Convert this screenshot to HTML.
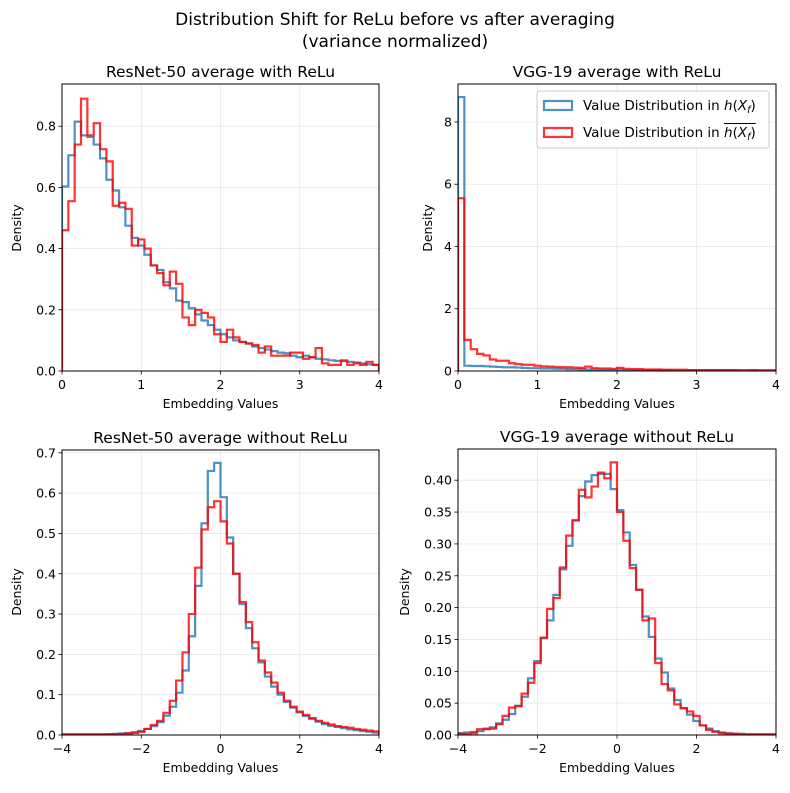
<!DOCTYPE html>
<html><head><meta charset="utf-8"><style>
body{margin:0;background:#fff;font-family:"Liberation Sans","DejaVu Sans",sans-serif}
svg text{font-family:"DejaVu Sans","Liberation Sans",sans-serif;fill:#000}
</style></head><body>
<svg id="fig" width="790" height="788" xmlns="http://www.w3.org/2000/svg">
<text x="395" y="25" text-anchor="middle" font-size="17">Distribution Shift for ReLu before vs after averaging</text>
<text x="395" y="47" text-anchor="middle" font-size="17">(variance normalized)</text>
</svg>
<script>
const binsA = 50;
// Top-left: ResNet-50 with ReLu, bins 0..4
const tlBlue=[0.603,0.705,0.815,0.77,0.765,0.74,0.695,0.625,0.59,0.535,0.475,0.435,0.41,0.38,0.345,0.33,0.29,0.27,0.23,0.225,0.205,0.185,0.165,0.15,0.135,0.12,0.11,0.1,0.095,0.09,0.08,0.075,0.07,0.065,0.06,0.058,0.05,0.045,0.05,0.045,0.04,0.038,0.035,0.033,0.032,0.03,0.028,0.025,0.022,0.02];
const tlRed=[0.46,0.555,0.74,0.89,0.77,0.81,0.725,0.685,0.54,0.55,0.53,0.41,0.43,0.4,0.345,0.32,0.28,0.325,0.285,0.175,0.15,0.2,0.19,0.175,0.12,0.095,0.135,0.11,0.095,0.09,0.085,0.06,0.08,0.05,0.05,0.05,0.06,0.06,0.04,0.045,0.075,0.025,0.02,0.02,0.035,0.02,0.025,0.02,0.03,0.02];
// Top-right: VGG-19 with ReLu
const trBlue=[8.8,0.17,0.16,0.16,0.15,0.14,0.13,0.12,0.12,0.11,0.1,0.09,0.09,0.08,0.08,0.07,0.07,0.06,0.06,0.05,0.05,0.05,0.04,0.04,0.04,0.04,0.03,0.03,0.03,0.03,0.03,0.03,0.03,0.02,0.02,0.02,0.02,0.02,0.02,0.02,0.02,0.02,0.02,0.02,0.02,0.02,0.02,0.02,0.02,0.02];
const trRed=[5.55,1.0,0.7,0.55,0.5,0.37,0.33,0.33,0.25,0.22,0.2,0.2,0.17,0.15,0.14,0.13,0.12,0.12,0.11,0.1,0.14,0.09,0.08,0.08,0.07,0.1,0.07,0.06,0.06,0.05,0.05,0.05,0.04,0.04,0.04,0.04,0.03,0.03,0.03,0.03,0.03,0.03,0.03,0.03,0.02,0.02,0.03,0.02,0.02,0.02];
// Bottom-left: ResNet-50 without ReLu, bins -4..4
const blBlue=[0.001,0.001,0.001,0.001,0.001,0.001,0.001,0.002,0.003,0.004,0.005,0.007,0.01,0.015,0.022,0.032,0.048,0.07,0.105,0.16,0.245,0.37,0.525,0.655,0.675,0.59,0.49,0.40,0.325,0.265,0.215,0.18,0.145,0.12,0.1,0.082,0.068,0.056,0.047,0.04,0.033,0.027,0.023,0.02,0.017,0.014,0.012,0.01,0.008,0.006];
const blRed=[0.002,0.002,0.002,0.002,0.002,0.002,0.002,0.002,0.002,0.002,0.004,0.005,0.008,0.015,0.025,0.035,0.055,0.085,0.135,0.205,0.30,0.415,0.51,0.565,0.58,0.53,0.475,0.40,0.33,0.28,0.23,0.185,0.155,0.13,0.105,0.085,0.07,0.058,0.05,0.042,0.035,0.03,0.026,0.022,0.02,0.018,0.015,0.013,0.011,0.009];
// Bottom-right: VGG-19 without ReLu
const brBlue=[0.003,0.004,0.005,0.006,0.01,0.012,0.018,0.024,0.033,0.046,0.06,0.089,0.116,0.152,0.18,0.22,0.26,0.297,0.337,0.375,0.398,0.408,0.41,0.41,0.386,0.353,0.318,0.267,0.228,0.186,0.154,0.12,0.098,0.073,0.055,0.042,0.032,0.022,0.015,0.01,0.006,0.004,0.003,0.002,0.002,0.001,0.001,0.001,0.001,0.001];
const brRed=[0.002,0.002,0.003,0.009,0.009,0.01,0.017,0.03,0.043,0.045,0.065,0.082,0.113,0.153,0.198,0.215,0.263,0.313,0.337,0.385,0.373,0.39,0.412,0.403,0.428,0.35,0.305,0.262,0.228,0.18,0.183,0.113,0.08,0.07,0.048,0.042,0.037,0.03,0.015,0.008,0.005,0.003,0.002,0.002,0.001,0.001,0.001,0.001,0.001,0.001];

const tlY=['0.0','0.2','0.4','0.6','0.8'], trY=['0','2','4','6','8'];
const blY=['0.0','0.1','0.2','0.3','0.4','0.5','0.6','0.7'];
const brY=['0.00','0.05','0.10','0.15','0.20','0.25','0.30','0.35','0.40'];
const xPos=['0','1','2','3','4'], xSym=['−4','−2','0','2','4'];

const NS='http://www.w3.org/2000/svg', fig=document.getElementById('fig');
function mk(tag,attrs,parent){const e=document.createElementNS(NS,tag);for(const k in attrs)e.setAttribute(k,attrs[k]);(parent||fig).appendChild(e);return e;}

function panel(id,box,title,xmin,xmax,ymax,yTicks,xTicks,blue,red){
  const g=mk('g',{});
  
  
  const [L,T,R,B]=box;
  const sx=v=>L+(v-xmin)/(xmax-xmin)*(R-L);
  const sy=v=>B-v/ymax*(B-T);
  const grid=mk('g',{},g);
  
  
  yTicks.forEach(t=>{const v=parseFloat(t),y=sy(v);
    mk('line',{x1:L,x2:R,y1:y,y2:y,stroke:'#b0b0b0','stroke-opacity':0.3,'stroke-width':0.8},grid);
    mk('line',{x1:L-3.5,x2:L,y1:y,y2:y,stroke:'#000','stroke-width':0.8},g);
    const tx=mk('text',{x:L-6,y:y+4.5,'text-anchor':'end','font-size':12.5},g);tx.textContent=t;
    
    
  });
  xTicks.forEach(t=>{const v=parseFloat(t.replace('−','-')),x=sx(v);
    mk('line',{x1:x,x2:x,y1:T,y2:B,stroke:'#b0b0b0','stroke-opacity':0.3,'stroke-width':0.8},grid);
    mk('line',{x1:x,x2:x,y1:B,y2:B+3.5,stroke:'#000','stroke-width':0.8},g);
    const tx=mk('text',{x:x,y:B+18,'text-anchor':'middle','font-size':12.5},g);tx.textContent=t;
    
    
  });
  const cid='clip-'+id;
  const cp=mk('clipPath',{id:cid},g);mk('rect',{x:L,y:T,width:R-L,height:B-T},cp);
  const w=(xmax-xmin)/binsA;
  [[blue,'#1f77b4','series-h'],[red,'#ff0000','series-h-bar']].forEach(([arr,col,nm])=>{
    let d='M'+sx(xmin)+','+sy(0);
    arr.forEach((v,i)=>{d+=' V'+sy(v)+' H'+sx(xmin+(i+1)*w);});
    d+=' V'+sy(0);
    const p=mk('path',{d:d,fill:'none',stroke:col,'stroke-opacity':0.8,'stroke-width':2.2,'clip-path':'url(#'+cid+')'},g);
    
    
  });
  mk('rect',{x:L,y:T,width:R-L,height:B-T,fill:'none',stroke:'#000','stroke-width':1},g);
  const tt=mk('text',{x:(L+R)/2,y:T-7,'text-anchor':'middle','font-size':15.5},g);tt.textContent=title;
  
  
  const xl=mk('text',{x:(L+R)/2,y:B+37,'text-anchor':'middle','font-size':12.5},g);xl.textContent='Embedding Values';
  
  
  return {g,sx,sy};
}
panel('resnet-relu',[62,84,379,371],'ResNet-50 average with ReLu',0,4,0.938,tlY,xPos,tlBlue,tlRed);
panel('vgg-relu',[458,84,776,371],'VGG-19 average with ReLu',0,4,9.22,trY,xPos,trBlue,trRed);
panel('resnet-norelu',[62,450,379,735],'ResNet-50 average without ReLu',-4,4,0.707,blY,xSym,blBlue,blRed);
panel('vgg-norelu',[458,449,776,735],'VGG-19 average without ReLu',-4,4,0.449,brY,xSym,brBlue,brRed);

function ylab(x,y){const t=mk('text',{x:x,y:y,'text-anchor':'middle','font-size':12.5,transform:'rotate(-90 '+x+' '+y+')'});t.textContent='Density';
  
  }
ylab(21,228);ylab(432,228);ylab(21,592);ylab(409,592);

// legend
const lg=mk('g',{});


mk('rect',{x:537,y:91,width:232,height:57,rx:3,fill:'#fff','fill-opacity':0.85,stroke:'#ccc','stroke-width':1},lg);
mk('rect',{x:544,y:101,width:28,height:9,fill:'none',stroke:'#1f77b4','stroke-opacity':0.8,'stroke-width':2.2},lg);
mk('rect',{x:544,y:128,width:28,height:9,fill:'none',stroke:'#ff0000','stroke-opacity':0.8,'stroke-width':2.2},lg);
const t1=mk('text',{x:583,y:110,'font-size':13.5},lg);
t1.innerHTML='Value Distribution in <tspan font-style="italic">h</tspan>(<tspan font-style="italic">X</tspan><tspan font-size="9.5" dy="3" font-style="italic">f</tspan><tspan dy="-3">)</tspan>';


const t2=mk('text',{x:583,y:137,'font-size':13.5},lg);
t2.innerHTML='Value Distribution in <tspan id="hb" font-style="italic">h</tspan>(<tspan font-style="italic">X</tspan><tspan font-size="9.5" dy="3" font-style="italic">f</tspan><tspan dy="-3">)</tspan>';


let ox1=729, ox2=763;
try{const bb=t2.getBBox();const hb=document.getElementById('hb').getBBox();ox1=hb.x;ox2=bb.x+bb.width;}catch(e){}
mk('line',{x1:ox1,x2:ox2,y1:123.5,y2:123.5,stroke:'#000','stroke-width':0.9},lg);
</script>
</body></html>
